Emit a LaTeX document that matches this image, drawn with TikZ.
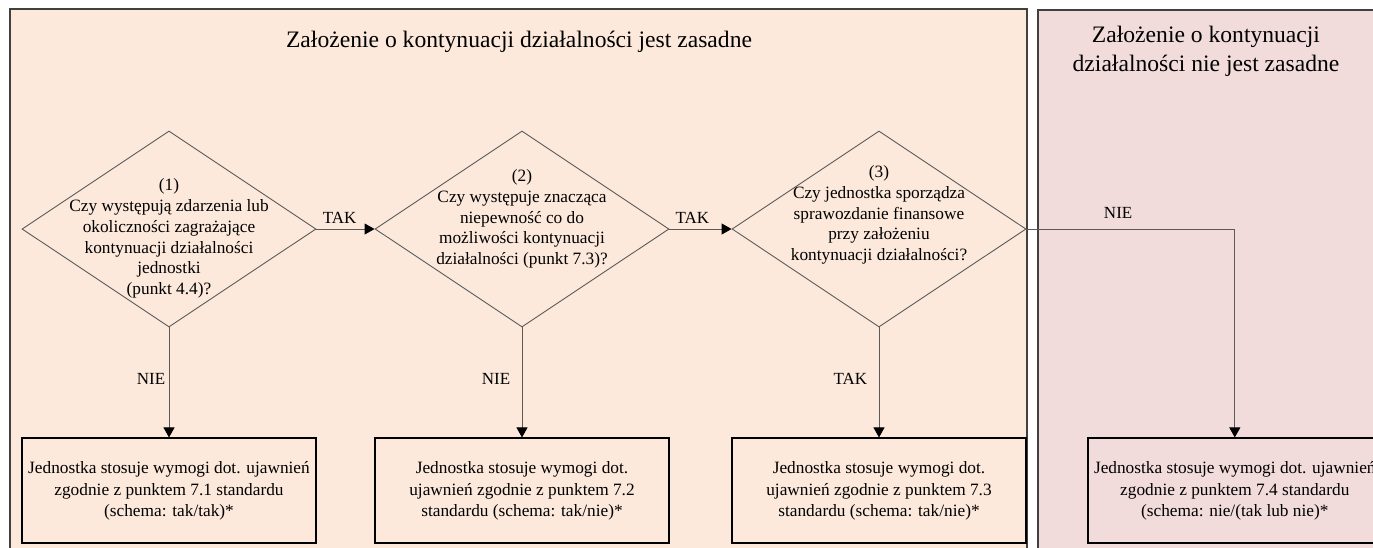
\documentclass[tikz,border=0pt]{standalone}
\usepackage{fontspec}
\setmainfont{Liberation Serif}
\usetikzlibrary{shapes.geometric,arrows.meta,positioning}
\definecolor{peach}{HTML}{FCE9DB}
\definecolor{rose}{HTML}{F2DCDB}
\definecolor{edgegray}{HTML}{5A5A5A}
\definecolor{framegray}{HTML}{404040}

\begin{document}
\begin{tikzpicture}[x=1pt,y=-1pt,
    question/.style={diamond, draw=edgegray, line width=0.9pt, minimum width=294pt, minimum height=196pt, inner sep=0pt},
    qtext/.style={align=center, font=\fontsize{17.3}{20.8}\selectfont},
    outcome/.style={draw=black, line width=1.8pt, minimum width=294pt, minimum height=105pt, align=center, font=\fontsize{17.3}{21.3}\selectfont},
    flow/.style={draw=edgegray, line width=0.9pt, -{Triangle[length=10pt,width=11pt,color=black]}},
    answer/.style={font=\fontsize{17}{20}\selectfont},
    heading/.style={align=center, font=\fontsize{23.6}{29}\selectfont}]
  \useasboundingbox (0,0) rectangle (1373,547);
  \clip (0,0) rectangle (1373,547);

  % Panels
  \fill[white] (0,0) rectangle (1373,547);
  \draw[framegray, fill=peach, line width=1.4pt] (10,9) rectangle (1027,570);
  \draw[framegray, fill=rose, line width=1.4pt] (1038,10) rectangle (1400,570);
  \node[heading] (t1) at (519,42) {Założenie o kontynuacji działalności jest zasadne};
  \node[heading] (t2) at (1206,51.5) {Założenie o kontynuacji\\działalności nie jest zasadne};

  % Questions
  \node[question] (d1) at (169,229) {};
  \node[question] (d2) at (522,229) {};
  \node[question] (d3) at (879,229) {};
  \node[qtext] (q1) at ([yshift=-9.5pt]d1.center) {(1)\\Czy występują zdarzenia lub\\okoliczności zagrażające\\kontynuacji działalności\\jednostki\\(punkt 4.4)?};
  \node[qtext] (q2) at ([yshift=10pt]d2.center) {(2)\\Czy występuje znacząca\\niepewność co do\\możliwości kontynuacji\\działalności (punkt 7.3)?};
  \node[qtext] (q3) at ([yshift=14pt]d3.center) {(3)\\Czy jednostka sporządza\\sprawozdanie finansowe\\przy założeniu\\kontynuacji działalności?};

  % Outcomes
  \node[outcome, below=110pt of d1] (o1) {Jednostka stosuje wymogi dot. ujawnień\\zgodnie z punktem 7.1 standardu\\(schema: tak/tak)*};
  \node[outcome, below=110pt of d2] (o2) {Jednostka stosuje wymogi dot.\\ujawnień zgodnie z punktem 7.2\\standardu (schema: tak/nie)*};
  \node[outcome, below=110pt of d3] (o3) {Jednostka stosuje wymogi dot.\\ujawnień zgodnie z punktem 7.3\\standardu (schema: tak/nie)*};
  \node[outcome, right=60pt of o3] (o4) {Jednostka stosuje wymogi dot. ujawnień\\zgodnie z punktem 7.4 standardu\\(schema: nie/(tak lub nie)*};

  % Connectors
  \draw[flow] (d1.east) -- node[answer, above=2pt, pos=0.4] (a1) {TAK} (d2.west);
  \draw[flow] (d2.east) -- node[answer, above=2pt, pos=0.37] (a2) {TAK} (d3.west);
  \draw[flow] (d1.south) -- node[answer, left, pos=0.47] (a3) {NIE} (o1.north);
  \draw[flow] (d2.south) -- node[answer, left=8pt, pos=0.47] (a4) {NIE} (o2.north);
  \draw[flow] (d3.south) -- node[answer, left=8pt, pos=0.47] (a5) {TAK} (o3.north);
  \draw[flow] (d3.east) -| node[answer, above=7pt, pos=0.22] (a6) {NIE} (o4.north);
\end{tikzpicture}
\end{document}
